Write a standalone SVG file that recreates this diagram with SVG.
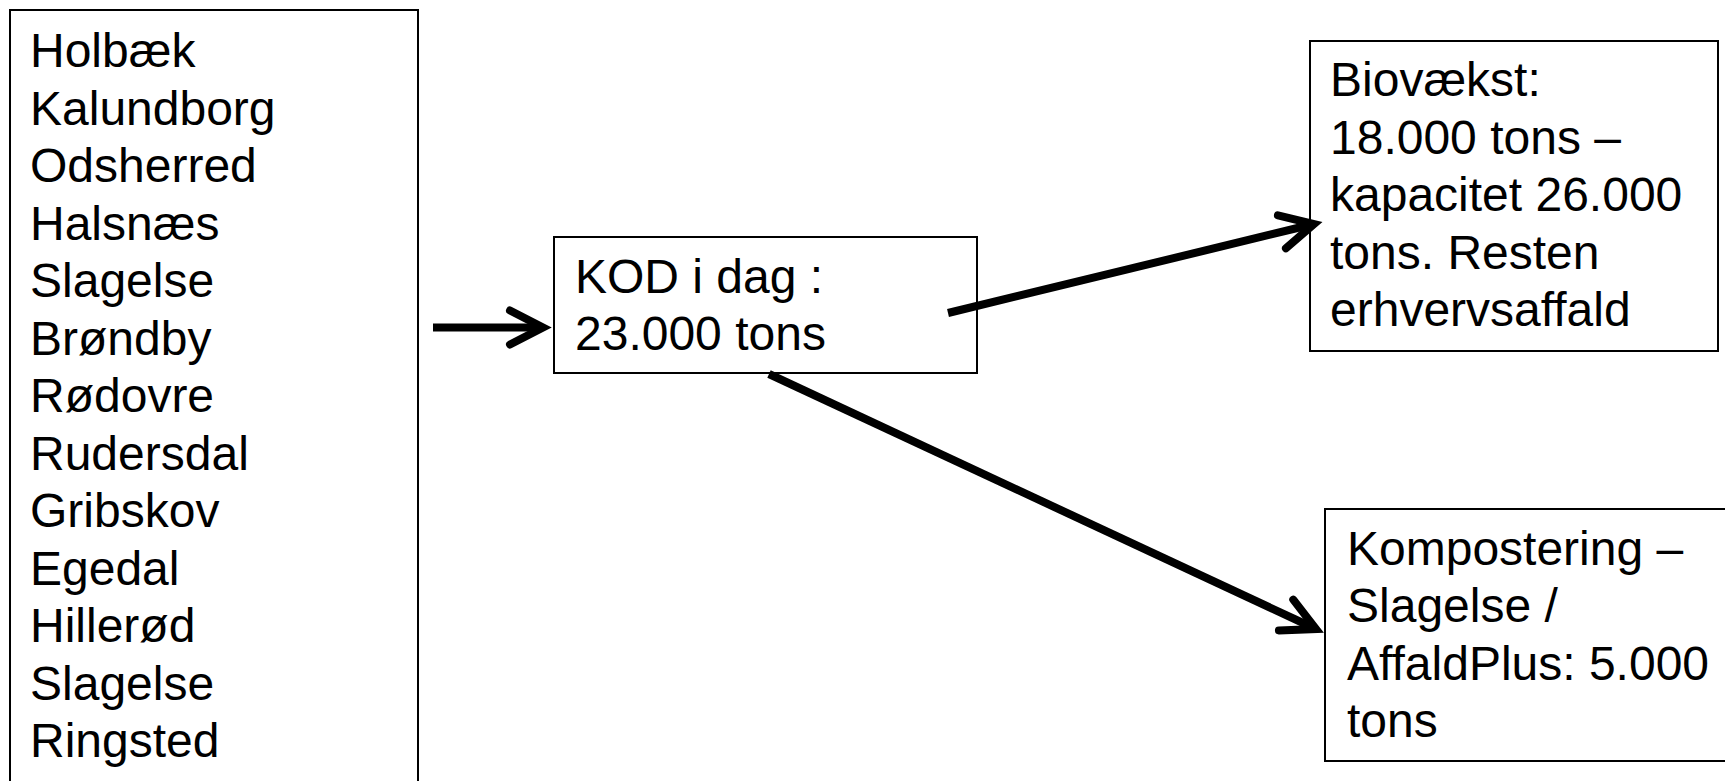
<svg xmlns="http://www.w3.org/2000/svg" width="1725" height="781" viewBox="0 0 1725 781">
<style>
.box{fill:#fff;stroke:#000;stroke-width:2}
.t{font-family:"Liberation Sans",Arial,sans-serif;font-size:48px;fill:#000}
.c{fill:none;stroke:#000;stroke-width:8;stroke-linecap:butt}
</style>
<defs>
<marker id="ah" markerUnits="userSpaceOnUse" orient="auto" refX="0" refY="0" markerWidth="60" markerHeight="60" viewBox="-50 -30 60 60" overflow="visible">
<path d="M-33,-17 L0,0 L-33,17" fill="none" stroke="#000" stroke-width="8" stroke-linecap="round" stroke-linejoin="miter"/>
</marker>
</defs>
<rect width="1725" height="781" fill="#fff"/>
<g id="node-municipalities">
<rect class="box" x="10" y="10" width="408" height="800"/>
<text class="t" x="30" y="67">Holbæk</text>
<text class="t" x="30" y="124.5">Kalundborg</text>
<text class="t" x="30" y="182">Odsherred</text>
<text class="t" x="30" y="239.5">Halsnæs</text>
<text class="t" x="30" y="297">Slagelse</text>
<text class="t" x="30" y="354.5">Brøndby</text>
<text class="t" x="30" y="412">Rødovre</text>
<text class="t" x="30" y="469.5">Rudersdal</text>
<text class="t" x="30" y="527">Gribskov</text>
<text class="t" x="30" y="584.5">Egedal</text>
<text class="t" x="30" y="642">Hillerød</text>
<text class="t" x="30" y="699.5">Slagelse</text>
<text class="t" x="30" y="757">Ringsted</text>
</g>
<g id="node-kod">
<rect class="box" x="554" y="237" width="423" height="136"/>
<text class="t" x="575" y="292.5">KOD i dag :</text>
<text class="t" x="575" y="350">23.000 tons</text>
</g>
<g id="node-biovaekst">
<rect class="box" x="1310" y="41" width="408" height="310"/>
<text class="t" x="1330" y="96">Biovækst:</text>
<text class="t" x="1330" y="153.5">18.000 tons –</text>
<text class="t" x="1330" y="211">kapacitet 26.000</text>
<text class="t" x="1330" y="268.5">tons. Resten</text>
<text class="t" x="1330" y="326">erhvervsaffald</text>
</g>
<g id="node-kompostering">
<rect class="box" x="1325" y="509" width="420" height="252"/>
<text class="t" x="1347" y="565">Kompostering –</text>
<text class="t" x="1347" y="622">Slagelse /</text>
<text class="t" x="1347" y="679.5">AffaldPlus: 5.000</text>
<text class="t" x="1347" y="737">tons</text>
</g>
<g id="connectors">
<line class="c" x1="433" y1="327.5" x2="543" y2="327.5" marker-end="url(#ah)"/>
<line class="c" x1="948" y1="313" x2="1314" y2="224" marker-end="url(#ah)"/>
<line class="c" x1="769" y1="374" x2="1316" y2="629" marker-end="url(#ah)"/>
</g>
</svg>
